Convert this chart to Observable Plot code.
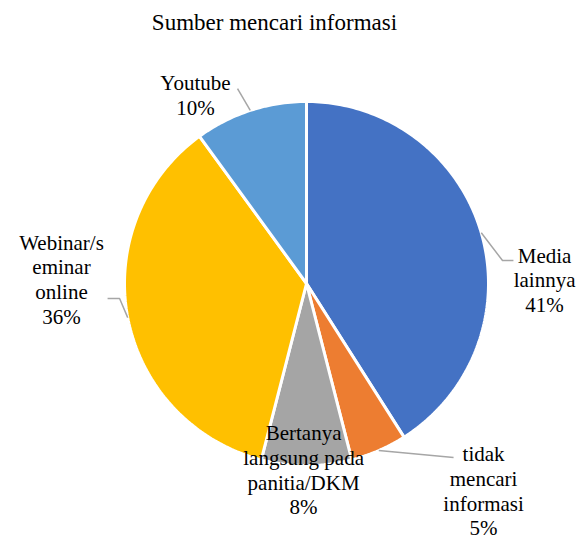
<!DOCTYPE html>
<html>
<head>
<meta charset="utf-8">
<script src="https://cdn.jsdelivr.net/npm/d3@7"></script>
<script src="https://cdn.jsdelivr.net/npm/@observablehq/plot@0.6"></script>
<style>
  body { margin: 0; background: #fff; }
  #title { font: 23px "Liberation Serif", serif; color: #000; text-align: center;
           padding-top: 10px; height: 30px; padding-right: 31px; width: 549px; }
</style>
</head>
<body>
<div id="title">Sumber mencari informasi</div>
<div id="chart"></div>
<script>
// ---- data ----
const categories = ["Media lainnya", "tidak mencari informasi", "Bertanya langsung pada panitia/DKM", "Webinar/seminar online", "Youtube"];
const labelTexts = ["Media\nlainnya", "tidak\nmencari\ninformasi", "Bertanya\nlangsung pada\npanitia/DKM", "Webinar/s\neminar\nonline", "Youtube"];
const values = [41, 5, 8, 36, 10];
const colors = ["#4472C4", "#ED7D31", "#A5A5A5", "#FFC000", "#5B9BD5"];

// ---- label layout (radius units relative to pie centre) ----
const labelPos = [
  {x: 1.308, y: 0.022},
  {x: 0.973, y: -1.136},
  {x: -0.016, y: -1.021},
  {x: -1.346, y: 0.026},
  {x: -0.610, y: 1.040}
];
// leader-line elbow points (null = no leader line)
const leaderBends = [
  [{x: 1.077, y: 0.126}, {x: 1.137, y: 0.126}],
  [{x: 0.808, y: -0.956}],
  null,
  [{x: -1.027, y: -0.082}, {x: -1.093, y: -0.082}],
  [{x: -0.379, y: 1.071}]
];

const total = d3.sum(values);
const pie = d3.pie().sort(null).value(d => d)(values);

const marks = [];
pie.forEach((p, i) => {
  const pts = [{x: 0, y: 0}];
  const steps = Math.max(2, Math.ceil((p.endAngle - p.startAngle) / (Math.PI / 180)));
  for (let k = 0; k <= steps; k++) {
    const a = p.startAngle + (p.endAngle - p.startAngle) * k / steps;
    pts.push({x: Math.sin(a), y: Math.cos(a)});
  }
  pts.push({x: 0, y: 0});
  marks.push(Plot.line(pts, {x: "x", y: "y", fill: colors[i], stroke: "white", strokeWidth: 3, strokeLinejoin: "miter", curve: "linear"}));
});

pie.forEach((p, i) => {
  if (!leaderBends[i]) return;
  const mid = (p.startAngle + p.endAngle) / 2;
  const pts = [{x: Math.sin(mid), y: Math.cos(mid)}, ...leaderBends[i]];
  marks.push(Plot.line(pts, {x: "x", y: "y", stroke: "#A6A6A6", strokeWidth: 1.5, strokeLinecap: "butt"}));
});

const labels = pie.map((p, i) => ({
  x: labelPos[i].x, y: labelPos[i].y,
  text: labelTexts[i] + "\n" + Math.round(values[i] / total * 100) + "%"
}));
marks.push(Plot.text(labels, {
  x: "x", y: "y", text: "text", lineAnchor: "middle", lineHeight: 1.18,
  fontSize: 21, fontFamily: "Liberation Serif", fill: "#000", textAnchor: "middle"
}));

const chart = Plot.plot({
  width: 580,
  height: 500,
  x: {domain: [-1, 1], range: [124, 488], axis: null},
  y: {domain: [-1, 1], range: [425, 61], axis: null},
  style: {background: "white", overflow: "visible"},
  marks
});
document.getElementById("chart").appendChild(chart);
</script>
</body>
</html>
